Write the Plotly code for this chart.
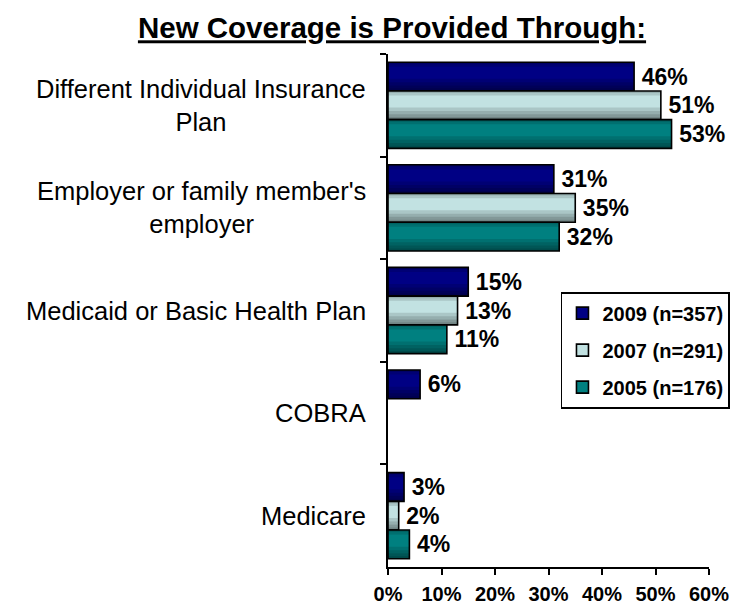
import plotly.graph_objects as go

# ---- data ----
categories = [
    "Different Individual Insurance<br>Plan",
    "Employer or family member's<br>employer",
    "Medicaid or Basic Health Plan",
    "COBRA",
    "Medicare",
]
series_names = ["2009 (n=357)", "2007 (n=291)", "2005 (n=176)"]
values_2009 = [46, 31, 15, 6, 3]
values_2007 = [51, 35, 13, None, 2]
values_2005 = [53, 32, 11, None, 4]
x_ticks = [0, 10, 20, 30, 40, 50, 60]
x_tick_labels = ["%d%%" % t for t in x_ticks]

series_values = [values_2009, values_2007, values_2005]
series_colors = ["#000084", "#C2E2E2", "#008080"]

FONT = "Liberation Sans, Arial, Helvetica, sans-serif"

# ---- bar geometry (in category units, y axis reversed so smaller = higher) ----
BARGAP = 0.16
SLOT = (1 - BARGAP) / 3

# dark strips laid over each bar to give it a rounded, shaded look
bottom_strips = [0.42, 0.30, 0.19, 0.09]
top_strips = [0.16, 0.07]
SHADE = "rgba(0,0,0,0.12)"

fig = go.Figure()

for i, (name, vals, col) in enumerate(zip(series_names, series_values, series_colors)):
    top = -(1 - BARGAP) / 2 + i * SLOT
    labels = ["\u2009%d%%" % v if v is not None else "" for v in vals]
    fig.add_trace(go.Bar(
        name=name,
        legendgroup=name,
        orientation="h",
        y=categories,
        x=vals,
        offset=top,
        width=SLOT,
        marker=dict(color=col, line=dict(color="black", width=1.6)),
        text=labels,
        textposition="outside",
        constraintext="none",
        cliponaxis=False,
        textfont=dict(family=FONT, size=23, color="black", weight="bold"),
        hoverinfo="skip",
    ))
    for f in bottom_strips:
        fig.add_trace(go.Bar(
            legendgroup=name, showlegend=False, orientation="h",
            y=categories, x=vals,
            offset=top + SLOT * (1 - f), width=SLOT * f,
            marker=dict(color=SHADE, line=dict(width=0)),
            hoverinfo="skip",
        ))
    for f in top_strips:
        fig.add_trace(go.Bar(
            legendgroup=name, showlegend=False, orientation="h",
            y=categories, x=vals,
            offset=top, width=SLOT * f,
            marker=dict(color=SHADE, line=dict(width=0)),
            hoverinfo="skip",
        ))

# category labels, centred multi-line text to the left of the axis
for cat in categories:
    fig.add_annotation(
        text=cat, xref="paper", yref="y", x=-0.062, y=cat,
        xanchor="right", yanchor="middle", align="center", showarrow=False,
        font=dict(family=FONT, size=25.5, color="black"),
    )

fig.update_layout(
    width=742, height=607,
    margin=dict(l=388, r=31, t=54, b=40),
    paper_bgcolor="white", plot_bgcolor="white",
    barmode="overlay",
    title=dict(
        text="<u>New Coverage is Provided Through:</u>",
        xref="container", yref="container", x=392 / 742, y=1 - 28 / 607,
        xanchor="center", yanchor="middle",
        font=dict(family=FONT, size=29.5, color="black", weight="bold"),
    ),
    # legend anchored by its right edge, just past the end of the x axis
    legend=dict(
        x=1.065, y=0.536, xanchor="right", yanchor="top",
        bgcolor="white", bordercolor="black", borderwidth=1.6,
        font=dict(family=FONT, size=20, color="black", weight="bold"),
        tracegroupgap=8, itemclick=False, itemdoubleclick=False,
    ),
    showlegend=True,
)

fig.update_xaxes(
    range=[0, 60], tickmode="array", tickvals=x_ticks, ticktext=x_tick_labels,
    automargin=False, tickangle=0,
    showgrid=False, zeroline=False,
    showline=True, linecolor="black", linewidth=1.6,
    ticks="outside", ticklen=6, tickwidth=1.6, tickcolor="black",
    ticklabelstandoff=2,
    tickfont=dict(family=FONT, size=20, color="black", weight="bold"),
    fixedrange=True,
)
fig.update_yaxes(
    type="category", categoryorder="array", categoryarray=categories,
    range=[len(categories) - 0.5, -0.5],
    automargin=False,
    showticklabels=False, showgrid=False, zeroline=False,
    showline=True, linecolor="black", linewidth=1.6,
    ticks="outside", tickson="boundaries", ticklen=6, tickwidth=1.6, tickcolor="black",
    fixedrange=True,
)

fig.write_html("out.html")
